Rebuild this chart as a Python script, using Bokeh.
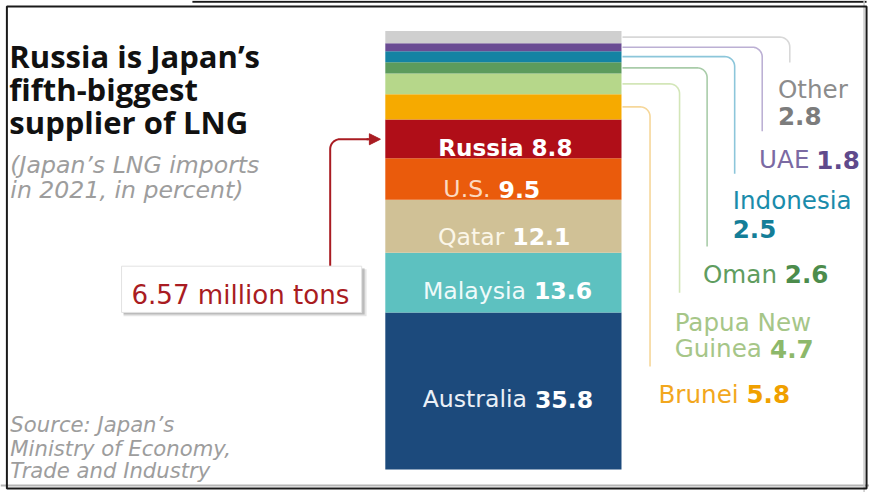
from bokeh.plotting import figure
from bokeh.models import Range1d, Label, BoxAnnotation, Arrow, NormalHead, ColumnDataSource, Span
from bokeh.embed import file_html
from bokeh.resources import INLINE
import numpy as np

# ---------------- data ----------------
countries = ["Australia", "Malaysia", "Qatar", "U.S.", "Russia", "Brunei",
             "Papua New Guinea", "Oman", "Indonesia", "UAE", "Other"]
shares = [35.8, 13.6, 12.1, 9.5, 8.8, 5.8, 4.7, 2.6, 2.5, 1.8, 2.8]
russia_tons = "6.57 million tons"

title_lines = ["Russia is Japan\u2019s", "fifth-biggest", "supplier of LNG"]
subtitle_lines = ["(Japan\u2019s LNG imports", "in 2021, in percent)"]
source_lines = ["Source: Japan\u2019s", "Ministry of Economy,", "Trade and Industry"]

# ---------------- style ----------------
seg_colors = ["#1c4a7c", "#5dc1c0", "#d0c196", "#ea5b0c", "#b00e18", "#f6aa00",
              "#b6d78a", "#5c9b5c", "#1483a3", "#6a4c93", "#cfcfcf"]
FONT = "DejaVu Sans"
TFONT = "Open Sans"
REF_W, REF_H = 883, 500
H = 492
K = H / REF_H
W = int(round(REF_W * K))
BASE = 476.5      # reference pixel row of 0 %
SCALE = 4.455     # reference pixels per percent
BAR_L, BAR_R = 391, 631


def py(y):
    """reference pixel row -> percent axis value"""
    return (BASE - y) / SCALE


def row(v):
    return BASE - SCALE * v


def fs(n):
    return f"{n * K:.1f}px"


p = figure(width=W, height=H, output_backend="svg", toolbar_location=None,
           x_range=Range1d(0, REF_W), y_range=Range1d(py(REF_H), py(0)),
           x_axis_location=None, y_axis_location=None, min_border=0)
p.grid.visible = False
p.outline_line_color = None
p.background_fill_color = "white"
p.border_fill_color = "white"

bottoms = np.concatenate([[0.0], np.cumsum(shares)[:-1]])
tops = bottoms + np.array(shares)
src = ColumnDataSource(dict(country=countries, bottom=bottoms, top=tops, color=seg_colors))
p.quad(left=BAR_L, right=BAR_R, bottom="bottom", top="top", fill_color="color",
       line_color=None, source=src)


def lab(x, yrow, text, size, color, style="normal", align="left", font=FONT):
    p.add_layout(Label(x=x, y=py(yrow), text=text, text_font=font, text_font_size=fs(size),
                       text_color=color, text_font_style=style, text_align=align,
                       text_baseline="alphabetic"))


# ---------------- title / subtitle / source ----------------
for t, b in zip(title_lines, [56, 90, 123]):
    lab(9, b, t, 31.5, "#111111", "bold", font=TFONT)
for t, b in zip(subtitle_lines, [167, 193]):
    lab(10, b, t, 24, "#9d9d9d", "italic")
for t, b in zip(source_lines, [431, 455, 478]):
    lab(10, b, t, 21.5, "#9d9d9d", "italic")

# ---------------- in-bar labels ----------------
idx = {c: i for i, c in enumerate(countries)}
fmt = lambda c: f"{shares[idx[c]]:.1f}"

lab(513, 150, f"Russia {fmt('Russia')}", 23.5, "white", "bold", "center")
inbar = [("U.S.", 498, 192, "#fcd9c0"),
         ("Qatar", 512, 240, "#fbf6e8"),
         ("Malaysia", 534, 295, "#effafa"),
         ("Australia", 535, 405, "#eaf0f7")]
for c, xs, b, col in inbar:
    lab(xs, b, c, 24, col, "normal", "right")
    lab(xs + 8, b, fmt(c), 24, "white", "bold", "left")

# ---------------- connectors ----------------
conn = {"Brunei": (660, 372, "#f6d79a"),
        "Papua New Guinea": (690, 297, "#d3e6b8"),
        "Oman": (718, 250, "#a9cca9"),
        "Indonesia": (746, 176, "#8cc6da"),
        "UAE": (774, 133, "#bcb0d4"),
        "Other": (802, 63, "#d8d8d8")}
r = 10
for c, (xc, yend, col) in conn.items():
    i = idx[c]
    ym = row((bottoms[i] + tops[i]) / 2)
    t = np.linspace(0, np.pi / 2, 12)
    xs = [BAR_R + 1] + list(xc - r + r * np.sin(t)) + [xc]
    ys = [ym] + list(ym + r - r * np.cos(t)) + [yend]
    p.line(xs, [py(y) for y in ys], line_color=col, line_width=1.6)

# ---------------- side labels ----------------
side = {"Other": ("#8c8c8c", "#7c7c7c"),
        "UAE": ("#7b6aa3", "#5f4a8c"),
        "Indonesia": ("#1a8cab", "#147e98"),
        "Oman": ("#5f9d5f", "#4c8c4c"),
        "Papua New Guinea": ("#a6c688", "#8db86a"),
        "Brunei": ("#f2a71e", "#f0a000")}
S = 25
lab(790, 90, "Other", S, side["Other"][0])
lab(790, 117, fmt("Other"), S, side["Other"][1], "bold")
lab(822, 162, "UAE", S, side["UAE"][0], align="right")
lab(829, 162, fmt("UAE"), S, side["UAE"][1], "bold")
lab(744, 203, "Indonesia", S, side["Indonesia"][0])
lab(744, 232, fmt("Indonesia"), S, side["Indonesia"][1], "bold")
lab(789, 278, "Oman", S, side["Oman"][0], align="right")
lab(797, 278, fmt("Oman"), S, side["Oman"][1], "bold")
lab(685, 327, "Papua New", S, side["Papua New Guinea"][0])
lab(685, 354, "Guinea", S, side["Papua New Guinea"][0])
lab(782, 354, fmt("Papua New Guinea"), S, side["Papua New Guinea"][1], "bold")
lab(750, 400, "Brunei", S, side["Brunei"][0], align="right")
lab(758, 400, fmt("Brunei"), S, side["Brunei"][1], "bold")

# ---------------- annotation box + arrow ----------------
RED = "#a91c22"
p.add_layout(BoxAnnotation(left=125, right=372, top=py(273), bottom=py(321),
                           fill_color="#000000", fill_alpha=0.10, line_color=None))
p.add_layout(BoxAnnotation(left=125, right=370, top=py(272), bottom=py(319),
                           fill_color="#000000", fill_alpha=0.18, line_color=None))
p.add_layout(BoxAnnotation(left=123, right=367, top=py(270), bottom=py(317),
                           fill_color="white", fill_alpha=1.0, line_color="#e2e2e2",
                           line_alpha=1.0, line_width=1))
lab(133, 299, russia_tons, 26.5, RED)

ax = 335
ay = 141
t = np.linspace(0, np.pi / 2, 12)
xs = [ax] + list(ax + r - r * np.cos(t)) + [374]
ys = [270] + list(ay + r - r * np.sin(t)) + [ay]
p.line(xs, [py(y) for y in ys], line_color=RED, line_width=2)
p.add_layout(Arrow(end=NormalHead(size=11, fill_color=RED, line_color=RED),
                   x_start=372, y_start=py(ay), x_end=386, y_end=py(ay),
                   line_color=RED, line_width=2))

# ---------------- frame ----------------
p.add_layout(Span(location=py(493), dimension="width", line_color="#b5b5b5", line_width=2))
p.add_layout(Span(location=877.5, dimension="height", line_color="#c8c8c8", line_width=1.5))
p.add_layout(BoxAnnotation(left=6.5, right=880, top=py(6), bottom=py(496),
                           fill_alpha=0, line_color="#1a1a1a", line_alpha=1.0, line_width=2))
p.line([195, 880], [py(1.2), py(1.2)], line_color="#1a1a1a", line_width=2)

open("out.html", "w").write(file_html(p, INLINE))
